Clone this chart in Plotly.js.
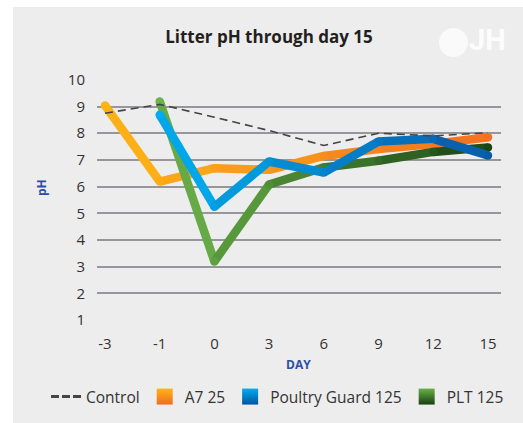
<!DOCTYPE html>
<html><head><meta charset="utf-8">
<script src="https://cdn.plot.ly/plotly-3.0.1.min.js"></script>
<style>html,body{margin:0;padding:0;background:#fff}#chart{width:523px;height:423px}</style>
</head><body><div id="chart"></div>
<script>
// ---- data ----
const days = ['-3', '-1', '0', '3', '6', '9', '12', '15'];
const control = [8.75, 9.08, 8.6, 8.1, 7.54, 8.0, 7.9, 8.02];
const a725 = [9.04, 6.19, 6.69, 6.63, 7.15, 7.41, 7.6, 7.85];
const poultryGuard = [null, 8.69, 5.25, 6.94, 6.53, 7.69, 7.79, 7.17];
const plt125 = [null, 9.19, 3.2, 6.08, 6.72, 6.97, 7.3, 7.47];
const seriesNames = ['Control', 'A7 25', 'Poultry Guard 125', 'PLT 125'];
const yTicks = [1, 2, 3, 4, 5, 6, 7, 8, 9, 10];

// ---- styling helpers ----
const FONT = 'Open Sans, Noto Sans, sans-serif';
function hexToRgb(h) { h = h.replace('#', ''); return [0, 2, 4].map(i => parseInt(h.substr(i, 2), 16)); }
function lerpColor(a, b, t) {
  const A = hexToRgb(a), B = hexToRgb(b);
  return 'rgb(' + A.map((v, i) => Math.round(v + (B[i] - v) * t)).join(',') + ')';
}

const gradSeries = [
  { name: seriesNames[1], vals: a725, c0: '#fdb515', c1: '#f36f21', lg0: '#fdb515', lg1: '#f26a22', rank: 2 },
  { name: seriesNames[3], vals: plt125, c0: '#6cb34a', c1: '#1a4514', lg0: '#6ab04c', lg1: '#17410f', rank: 4 },
  { name: seriesNames[2], vals: poultryGuard, c0: '#00aeef', c1: '#0a5aa8', lg0: '#00aeef', lg1: '#0053a0', rank: 3 }
];

const traces = [];
gradSeries.forEach(s => {
  const first = s.vals.findIndex(v => v !== null);
  const last = s.vals.length - 1;
  const span = last - first;
  for (let i = first; i < last; i++) {
    const t = ((i + 0.5) - first) / span;
    traces.push({
      x: [days[i], days[i + 1]], y: [s.vals[i], s.vals[i + 1]],
      type: 'scatter', mode: 'lines', showlegend: false, hoverinfo: 'skip',
      line: { color: lerpColor(s.c0, s.c1, t), width: 8.5 }
    });
  }
  const xs = [], ys = [], cs = [];
  for (let i = first; i <= last; i++) {
    xs.push(days[i]); ys.push(s.vals[i]);
    cs.push(lerpColor(s.c0, s.c1, (i - first) / span));
  }
  traces.push({
    x: xs, y: ys, type: 'scatter', mode: 'markers', showlegend: false, hoverinfo: 'skip',
    marker: { color: cs, size: 8.5, line: { width: 0 } }
  });
});

// control line (drawn on top)
traces.push({
  x: days, y: control, name: seriesNames[0], type: 'scatter', mode: 'lines', showlegend: false,
  line: { color: '#444444', width: 1.6, dash: '8px,5px' }, hoverinfo: 'skip'
});
// legend-only entries
traces.push({
  x: [null], y: [null], name: seriesNames[0], type: 'scatter', mode: 'lines', legendrank: 1,
  line: { color: '#454545', width: 3, dash: '8px,3px' }
});
gradSeries.forEach(s => {
  traces.push({
    x: [null], y: [null], name: s.name, type: 'scatter', mode: 'markers', legendrank: s.rank,
    marker: { symbol: 'square', size: 18, color: s.lg0, gradient: { type: 'vertical', color: s.lg1 }, line: { width: 0 } }
  });
});

const L = 97, R = 22, T = 79, B = 102, W = 523, H = 423;
const pw = W - L - R, ph = H - T - B;
const px = v => (v - L) / pw;
const py = v => (H - B - v) / ph;

const layout = {
  width: W, height: H,
  margin: { l: L, r: R, t: T, b: B, pad: 0, autoexpand: false },
  paper_bgcolor: '#ffffff', plot_bgcolor: 'rgba(0,0,0,0)',
  font: { family: FONT, color: '#333333', size: 15 },
  title: {
    text: '<b>Litter pH through day 15</b>', xref: 'container', yref: 'container',
    x: 269 / W, y: 1 - 37 / H, xanchor: 'center', yanchor: 'middle',
    font: { family: FONT, size: 17, color: '#231f20' }
  },
  xaxis: {
    type: 'category', categoryorder: 'array', categoryarray: days,
    range: [-0.146, 7.238], showgrid: false, zeroline: false, showline: false,
    ticks: '', tickfont: { size: 15, color: '#333333' }, ticklabelstandoff: 12, fixedrange: true
  },
  yaxis: {
    range: [0.97, 10.03], tickvals: yTicks, ticktext: yTicks.map(String),
    showgrid: true, gridcolor: '#97979b', gridwidth: 2, zeroline: false, showline: false,
    ticks: '', tickfont: { size: 15, color: '#333333' }, ticklabelstandoff: 11, fixedrange: true
  },
  showlegend: true,
  legend: {
    orientation: 'h', x: px(46), y: py(397), xanchor: 'left', yanchor: 'middle',
    bgcolor: 'rgba(0,0,0,0)', font: { family: FONT, size: 15.5, color: '#333333' },
    traceorder: 'normal', itemclick: false
  },
  shapes: [
    { type: 'rect', xref: 'paper', yref: 'paper', layer: 'below',
      x0: px(13), x1: px(530), y0: py(430), y1: py(7), fillcolor: '#ededed', line: { width: 0 } },
    { type: 'circle', xref: 'paper', yref: 'paper', layer: 'above',
      x0: px(439), x1: px(468), y0: py(57), y1: py(28), fillcolor: 'rgba(255,255,255,0.7)', line: { width: 0 } }
  ],
  annotations: [
    { text: '<b>pH</b>', xref: 'paper', yref: 'paper', x: px(41), y: py(187), showarrow: false,
      textangle: -90, xanchor: 'center', yanchor: 'middle', font: { family: FONT, size: 12, color: '#2d4ea2' } },
    { text: '<b>DAY</b>', xref: 'paper', yref: 'paper', x: px(298), y: py(364), showarrow: false,
      xanchor: 'center', yanchor: 'middle', font: { family: FONT, size: 12, color: '#2d4ea2' } },
    { text: '<b>JH</b>', xref: 'paper', yref: 'paper', x: px(487), y: py(40), showarrow: false,
      xanchor: 'center', yanchor: 'middle', font: { family: 'Roboto, sans-serif', size: 29, color: 'rgba(255,255,255,0.9)' } }
  ],
  hovermode: false
};

Plotly.newPlot('chart', traces, layout, { displayModeBar: false, staticPlot: true });
</script>
</body></html>
